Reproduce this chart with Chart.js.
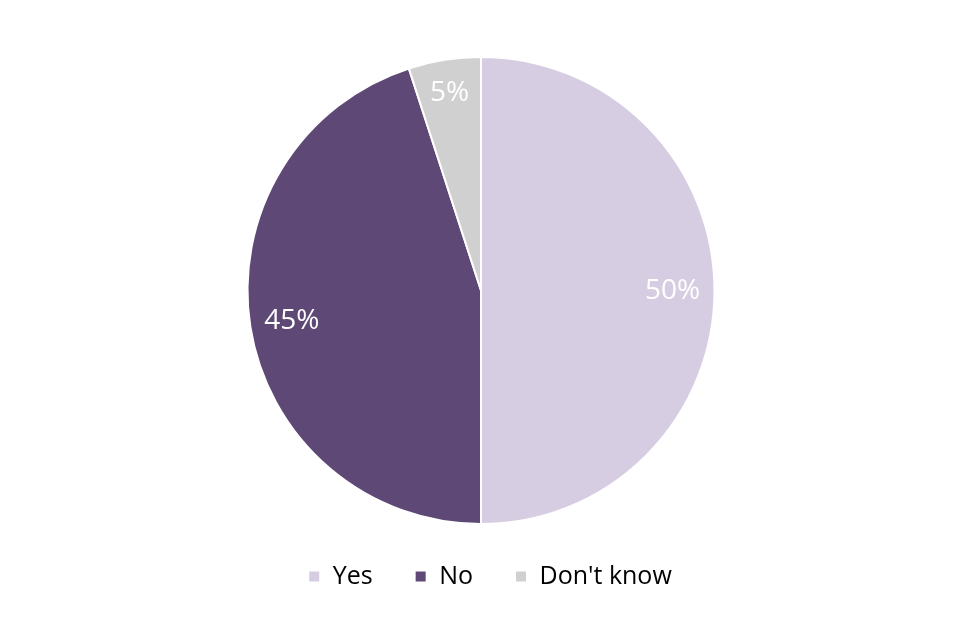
<!DOCTYPE html>
<html>
<head>
<meta charset="utf-8">
<script src="https://cdn.jsdelivr.net/npm/chart.js@4.4.1/dist/chart.umd.min.js"></script>
<style>
  html, body { margin: 0; padding: 0; background: #ffffff; }
  #wrap { width: 960px; height: 640px; position: relative; }
</style>
</head>
<body>
<div id="wrap"><canvas id="pieChart"></canvas></div>
<script>
const categories = ["Yes", "No", "Don't know"];
const values = [50, 45, 5];
const colors = ["#D7CDE2", "#5E4875", "#D0D0D0"];

// draws the % labels inside each slice
const sliceLabels = {
    id: 'sliceLabels',
    afterDatasetsDraw(chart) {
        const ctx = chart.ctx;
        const meta = chart.getDatasetMeta(0);
        ctx.save();
        ctx.font = '28px "Open Sans", sans-serif';
        ctx.fillStyle = '#ffffff';
        ctx.textAlign = 'center';
        ctx.textBaseline = 'middle';
        meta.data.forEach((arc, i) => {
            const p = arc.getProps(['x', 'y', 'startAngle', 'endAngle', 'outerRadius']);
            const mid = (p.startAngle + p.endAngle) / 2;
            const r = p.outerRadius * (i === 2 ? 0.86 : 0.82);
            ctx.fillText(values[i] + '%', p.x + Math.cos(mid) * r, p.y + Math.sin(mid) * r + 1);
        });
        ctx.restore();
    }
};

// nudge the legend a little right/up, like the original
const legendNudge = {
    id: 'legendNudge',
    afterLayout(chart) {
        const lg = chart.legend;
        lg.left += 9; lg.right += 9;
        lg.top -= 3; lg.bottom -= 3;
    }
};

new Chart(document.getElementById("pieChart"), {
    type: 'pie',
    data: {
        labels: categories,
        datasets: [
            {
                data: values,
                backgroundColor: colors,
                borderColor: '#ffffff',
                borderWidth: 2
            }
        ]
    },
    options: {
        responsive: true,
        maintainAspectRatio: false,
        animation: false,
        layout: { padding: { top: 56, bottom: 38, left: 2, right: 0 } },
        plugins: {
            legend: {
                display: true,
                position: 'bottom',
                labels: {
                    boxWidth: 12,
                    boxHeight: 12,
                    padding: 42,
                    color: '#000000',
                    font: { size: 25, family: '"Open Sans", sans-serif' }
                }
            },
            tooltip: { enabled: false }
        }
    },
    plugins: [sliceLabels, legendNudge]
});
</script>
</body>
</html>
